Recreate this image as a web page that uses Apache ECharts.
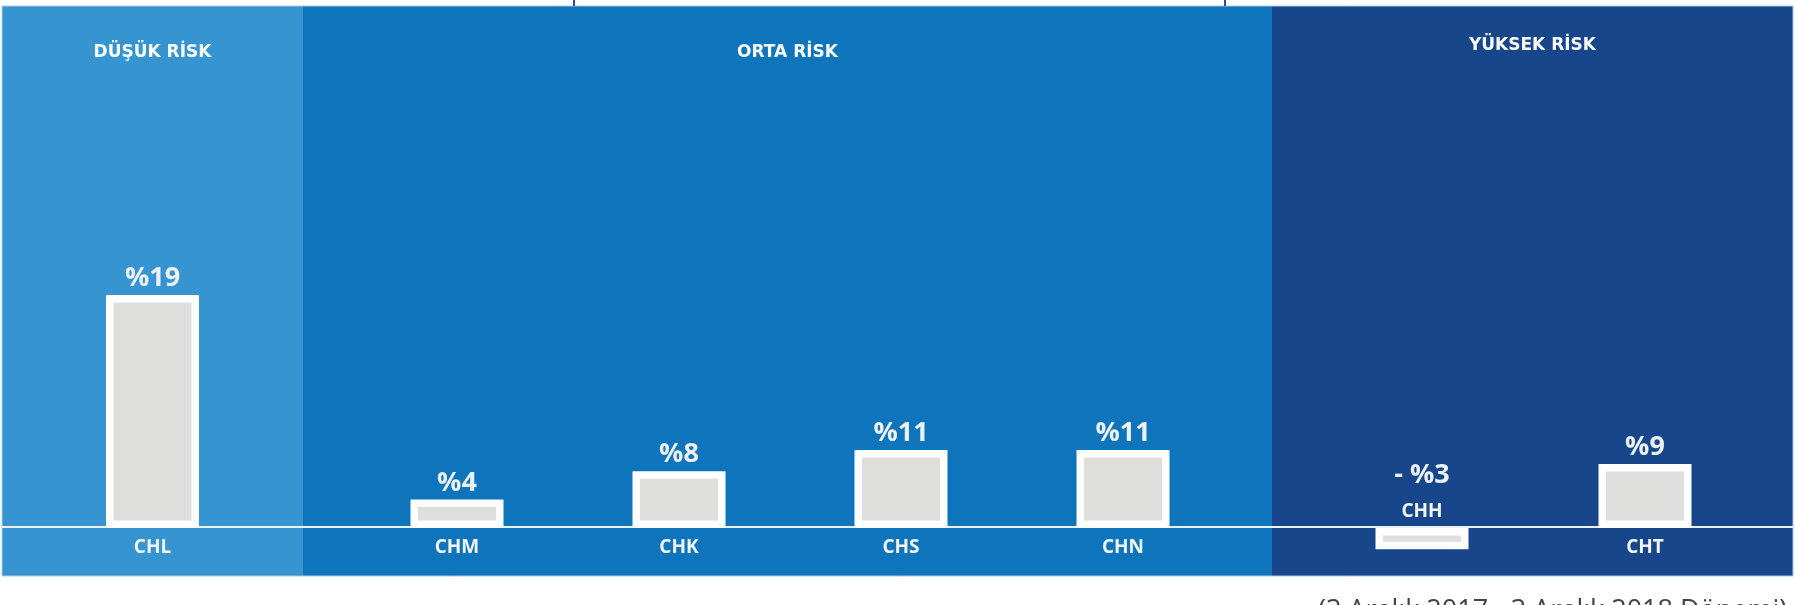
<!DOCTYPE html>
<html><head><meta charset="utf-8">
<script src="https://cdn.jsdelivr.net/npm/echarts@6/dist/echarts.min.js"></script>
<style>html,body{margin:0;padding:0;background:#fff;} #c{width:1795px;height:605px;}</style>
</head><body><div id="c"></div>
<script>
// ---- data ----
const groupNames = ['DÜŞÜK RİSK', 'ORTA RİSK', 'YÜKSEK RİSK'];
const lowCats = ['CHL'];
const lowVals = [19];
const midCats = ['CHM', 'CHK', 'CHS', 'CHN'];
const midVals = [4, 8, 11, 11];
const highCats = ['CHH', 'CHT'];
const highVals = [-3, 9];
const footnote = '(3 Aralık 2017 - 3 Aralık 2018 Dönemi)';

function pct(v) { return v < 0 ? '- %' + Math.abs(v) : '%' + v; }

const FONT = 'Open Sans';
const panelColors = ['#3694d0', '#0e75bc', '#17468b'];
const panels = [[2, 303], [303, 1272], [1272, 1793]];
const PANEL_TOP = 6, PANEL_BOTTOM = 576;

const chart = echarts.init(document.getElementById('c'), null, { renderer: 'canvas' });

const groups = [
  { cats: lowCats, vals: lowVals, left: 2, width: 301, min: -3.92, max: 42.58 },
  { cats: midCats, vals: midVals, left: 346, width: 888, min: -6.76, max: 73.52 },
  { cats: highCats, vals: highVals, left: 1310.5, width: 446, min: -6.76, max: 73.52 }
];

const grid = groups.map(g => ({ left: g.left, width: g.width, top: PANEL_TOP, height: PANEL_BOTTOM - PANEL_TOP, containLabel: false }));
const xAxis = groups.map((g, i) => ({
  type: 'category', gridIndex: i, data: g.cats, position: 'bottom',
  axisLine: { show: false, onZero: false },
  axisTick: { show: false }, splitLine: { show: false },
  axisLabel: {
    color: '#f2f6fb', fontSize: 19, fontWeight: 'bold', fontFamily: FONT, margin: 11,
    formatter: (val, idx) => (g.vals[idx] < 0 ? '' : val)
  }
}));
const yAxis = groups.map((g, i) => ({
  type: 'value', gridIndex: i, min: g.min, max: g.max, show: false, splitLine: { show: false }
}));
const series = groups.map((g, i) => ({
  type: 'bar', xAxisIndex: i, yAxisIndex: i, barWidth: 93, z: 3,
  itemStyle: { color: '#dededc', borderColor: '#ffffff', borderWidth: 7.5 },
  label: {
    show: true, position: 'top', distance: 3,
    color: '#eef2f7', fontSize: 27, fontWeight: 'bold', fontFamily: FONT,
    formatter: p => pct(p.value)
  },
  data: g.vals.map((v, k) => v < 0 ? {
    value: v,
    label: {
      distance: 4,
      formatter: '{v|' + pct(v) + '}\n{c|' + g.cats[k] + '}',
      rich: {
        v: { fontSize: 27, fontWeight: 'bold', color: '#eef2f7', fontFamily: FONT, lineHeight: 50 },
        c: { fontSize: 19, fontWeight: 'bold', color: '#f2f6fb', fontFamily: FONT, lineHeight: 24 }
      }
    }
  } : v)
}));

const graphic = [];
panels.forEach((p, i) => {
  graphic.push({
    id: 'panel' + i, type: 'rect', z: 0, silent: true,
    shape: { x: p[0], y: PANEL_TOP, width: p[1] - p[0], height: PANEL_BOTTOM - PANEL_TOP },
    style: { fill: panelColors[i] }
  });
});
graphic.push({
  id: 'frame', type: 'rect', z: 0, silent: true,
  shape: { x: 2, y: PANEL_TOP, width: 1791, height: PANEL_BOTTOM - PANEL_TOP },
  style: { fill: 'none', stroke: '#a9cbe8', lineWidth: 1 }
});
const titleY = [53, 53, 46];
groupNames.forEach((name, i) => {
  graphic.push({
    id: 'title' + i, type: 'text', z: 1, silent: true,
    x: (panels[i][0] + panels[i][1]) / 2, y: titleY[i],
    style: { text: name, fill: '#ffffff', font: 'bold 17px "DejaVu Sans"', align: 'center', verticalAlign: 'middle' }
  });
});
[574, 1225].forEach((x, i) => {
  graphic.push({
    id: 'tick' + i, type: 'line', z: 1, silent: true,
    shape: { x1: x, y1: 0, x2: x, y2: PANEL_TOP },
    style: { stroke: '#2d4f8e', lineWidth: 2 }
  });
});
graphic.push({
  id: 'foot', type: 'text', z: 1, silent: true, x: 1318, y: 598,
  style: { text: footnote, fill: '#444444', font: '27px "Open Sans"', align: 'left', verticalAlign: 'top' }
});

chart.setOption({ animation: false, grid, xAxis, yAxis, series, graphic });

// place the category axes and the separator line on the zero value
const y0 = chart.convertToPixel({ yAxisIndex: 1 }, 0);
chart.setOption({
  xAxis: groups.map((g, i) => ({ offset: y0 - PANEL_BOTTOM })),
  graphic: [{
    id: 'baseline', type: 'line', z: 1, silent: true,
    shape: { x1: 2, y1: y0, x2: 1793, y2: y0 },
    style: { stroke: '#e9f1f9', lineWidth: 2 }
  }]
});
</script>
</body></html>
